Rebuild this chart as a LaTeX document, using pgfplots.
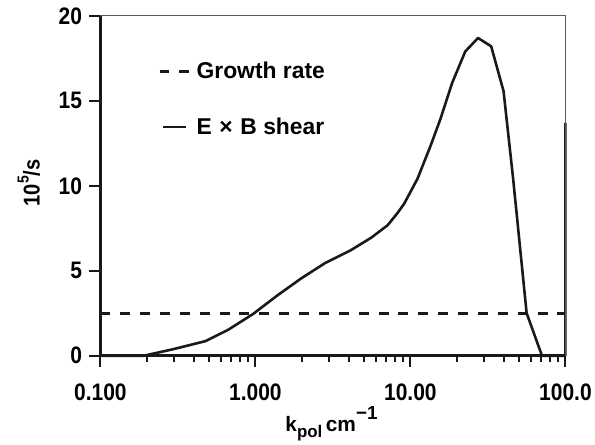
\documentclass[border=0pt]{standalone}
\usepackage{fontspec}
\setmainfont{Liberation Sans}
\newfontfamily\narrowfont[FakeStretch=0.88]{Liberation Sans}
\usepackage{pgfplots}
\pgfplotsset{compat=1.18}
\pgfplotsset{
  dashleg/.style={legend image code/.code={\draw[##1] (0pt,0pt) -- (30pt,0pt);}},
  solidleg/.style={legend image code/.code={\draw[##1] (4pt,0pt) -- (27pt,0pt);}},
}
\begin{document}
\begin{tikzpicture}
\begin{axis}[
  scale only axis, width=468pt, height=342pt,
  xmode=log, xmin=0.1, xmax=100, ymin=0, ymax=20,
  axis x line=bottom, axis y line=left,
  axis line style={-, line width=2.6pt, black!90},
  xtick={0.1,1,10,100}, xticklabels={0.100,1.000,10.00,100.0},
  minor xtick={0.2,0.3,0.4,0.5,0.6,0.7,0.8,0.9,2,3,4,5,6,7,8,9,20,30,40,50,60,70,80,90},
  ytick={0,5,10,15,20}, yticklabels={0,5,10,15,20},
  tick align=outside, major tick length=11pt, minor tick length=6pt,
  tick style={line width=2pt, black!90},
  tick label style={font=\narrowfont\fontsize{24}{26}\selectfont\bfseries},
  xticklabel style={yshift=-14pt},
  yticklabel style={xshift=-4pt},
  xlabel={k\raisebox{-6pt}{\fontsize{17}{17}\selectfont pol}\,cm\raisebox{12pt}{\fontsize{19}{19}\selectfont −1}},
  xlabel style={font=\fontsize{21}{24}\selectfont\bfseries, at={(axis description cs:0.497,-0.2223)}, anchor=base},
  ylabel={10\raisebox{11pt}{\fontsize{16}{16}\selectfont 5}/s},
  ylabel style={font=\narrowfont\fontsize{23}{26}\selectfont\bfseries, at={(axis description cs:-0.1538,0.509)}, anchor=center},
  clip=false,
  legend cell align=left,
  legend style={draw=none, fill=none, at={(axis description cs:0.124,0.870)}, anchor=north west,
    row sep=34pt, column sep=4pt, inner sep=0pt, font=\fontsize{23}{26}\selectfont\bfseries},
]
\addplot[black!90, line width=2.6pt, dash pattern=on 10pt off 10pt, dashleg]
  coordinates {(0.1,2.5) (100,2.5)};
\addlegendentry{Growth rate}
\addplot[black!90, line width=2.6pt, line join=round, solidleg]
  coordinates {
  (0.1,0) (0.19,0) (0.29,0.37) (0.476,0.86) (0.671,1.54) (0.97,2.47) (1.40,3.58)
  (1.98,4.56) (2.80,5.44) (4.14,6.22) (5.57,6.94) (7.13,7.68) (8.26,8.40) (9.12,8.95)
  (11.1,10.41) (13.5,12.36) (15.6,13.92) (18.6,16.06) (22.6,17.91) (27.3,18.70)
  (33.2,18.21) (39.9,15.57) (46.0,10.41) (56.2,2.51) (70.6,0) (100,0) (100,13.7)};
\addlegendentry{E\,\,×\,\,B shear}
\draw[black!65, line width=1pt] (rel axis cs:0,1) -- (rel axis cs:1,1) -- (rel axis cs:1,0);
\end{axis}
\path (current axis.south west) ++(-101pt,-81pt) (current axis.north east) ++(27pt,16pt);
\end{tikzpicture}
\end{document}
